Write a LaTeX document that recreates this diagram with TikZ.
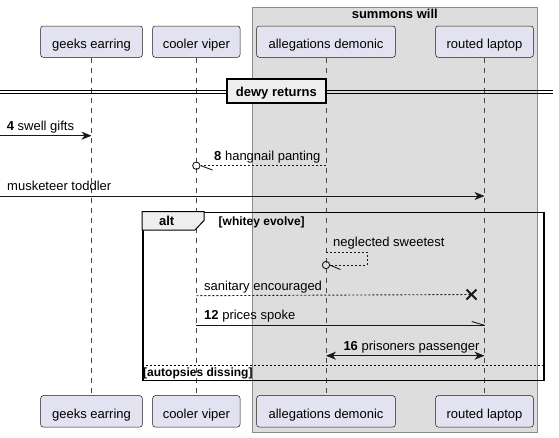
\documentclass[tikz,border=0pt]{standalone}
\usepackage{fontspec}
\setmainfont{Liberation Sans}
\usetikzlibrary{arrows.meta}
\definecolor{partfill}{HTML}{E2E2F0}
\definecolor{partline}{HTML}{181818}
\definecolor{boxfill}{HTML}{DDDDDD}
\definecolor{boxline}{HTML}{8C8C8C}
\definecolor{tabfill}{HTML}{EEEEEE}
\begin{document}
\begin{tikzpicture}[x=1pt,y=-1pt,
  part/.style={draw=partline, line width=0.5pt, fill=partfill, rounded corners=2.5pt,
    inner sep=0pt, minimum height=31.3pt, text height=13.3pt, text depth=0pt,
    font=\fontsize{13}{15}\selectfont},
  life/.style={draw=partline!80, line width=0.6pt, dash pattern=on 5pt off 5pt},
  msg/.style={line width=0.9pt, draw=partline},
  dotmsg/.style={line width=0.9pt, draw=partline, dash pattern=on 2pt off 2pt},
  tipped/.style={-{Stealth[length=10pt,width=8pt,inset=3pt]}},
  bothtipped/.style={{Stealth[length=10pt,width=8pt,inset=3pt]}-{Stealth[length=10pt,width=8pt,inset=3pt]}},
  lbl/.style={anchor=base west, inner sep=0pt, font=\fontsize{13}{15}\selectfont},
  guard/.style={anchor=base west, inner sep=0pt, font=\fontsize{12}{14}\selectfont\bfseries},
]
\useasboundingbox (0,0) rectangle (559,437);

% grouping box
\node[draw=boxline, line width=0.8pt, fill=boxfill, anchor=north west, inner sep=0pt,
  minimum width=285pt, minimum height=425.3pt] (swbox) at (252.3,6.7) {};
\node[anchor=base, inner sep=0pt, font=\fontsize{13}{15}\selectfont\bfseries] (swlabel) at (394.8,18.5) {summons will};

% participants
\node[part, minimum width=101.6pt] (p1) at (91.5,41.65) {geeks earring};
\node[part, minimum width=87.3pt] (p2) at (196.35,41.65) {cooler viper};
\node[part, minimum width=138.6pt] (p3) at (326,41.65) {allegations demonic};
\node[part, minimum width=97.6pt] (p4) at (484.5,41.65) {routed laptop};
\node[part, minimum width=101.6pt] (q1) at (91.5,411.35) {geeks earring};
\node[part, minimum width=87.3pt] (q2) at (196.35,411.35) {cooler viper};
\node[part, minimum width=138.6pt] (q3) at (326,411.35) {allegations demonic};
\node[part, minimum width=97.6pt] (q4) at (484.5,411.35) {routed laptop};

% lifelines
\draw[life] (p1.south) -- (q1.north);
\draw[life] (p2.south) -- (q2.north);
\draw[life] (p3.south) -- (q3.north);
\draw[life] (p4.south) -- (q4.north);

% divider
\coordinate (dl1) at (0,90.6);
\coordinate (dr1) at (553,90.6);
\coordinate (dl2) at (0,93.6);
\coordinate (dr2) at (553,93.6);
\draw[line width=0.9pt] (dl1) -- (dr1);
\draw[line width=0.9pt] (dl2) -- (dr2);
\node[draw=black, line width=2pt, fill=tabfill, inner sep=0pt, minimum width=99pt,
  minimum height=24pt, text height=9.6pt, text depth=0pt,
  font=\fontsize{13}{15}\selectfont\bfseries] (div) at (276.35,91.2) {dewy returns};

% alt frame
\node[draw=black, line width=1.5pt, anchor=north west, inner sep=0pt,
  minimum width=401.3pt, minimum height=168pt] (alt) at (142,211.7) {};
\coordinate (t1) at (142,211.7);
\coordinate (t2) at (204,211.7);
\coordinate (t3) at (204,220.5);
\coordinate (t4) at (195,230);
\coordinate (t5) at (142,230);
\draw[fill=tabfill, line width=1pt] (t1) -- (t2) -- (t3) -- (t4) -- (t5) -- cycle;
\node[anchor=base, inner sep=0pt, font=\fontsize{13}{15}\selectfont\bfseries] (altlbl) at (166.7,225) {alt};
\node[guard] (g1) at (218.5,225) {[whitey evolve]};
\coordinate (sepl) at (142,365.3);
\coordinate (sepr) at (543.3,365.3);
\draw[line width=0.9pt, dash pattern=on 2pt off 2pt] (sepl) -- (sepr);
\node[guard] (g2) at (143,376.5) {[autopsies dissing]};

% message rows
\coordinate (r4) at (0,135.7);
\coordinate (r8) at (0,165.7);
\coordinate (rm) at (0,196);
\coordinate (rs) at (0,252.3);
\coordinate (rs2) at (0,265);
\coordinate (rsa) at (0,295.7);
\coordinate (r12) at (0,325.3);
\coordinate (r16) at (0,355.7);

% 4 swell gifts
\draw[msg, tipped] (r4) -- (r4 -| p1);
\node[lbl] (m4) at (6.7,130.2) {\textbf{4} swell gifts};

% 8 hangnail panting
\coordinate (c8) at (r8 -| p2);
\coordinate (c8e) at (200.9,165.7);
\coordinate (c8h) at (212.5,170);
\draw[dotmsg] (r8 -| p3) -- (c8e);
\draw[line width=0.9pt, draw=partline] (c8) circle (3.7pt);
\draw[line width=0.9pt, draw=partline] (c8e) -- (c8h);
\node[lbl] (m8) at (214,160.5) {\textbf{8} hangnail panting};

% musketeer toddler
\draw[msg, tipped] (rm) -- (rm -| p4);
\node[lbl] (mm) at (7,190.6) {musketeer toddler};

% neglected sweetest (self)
\coordinate (s1) at (rs -| p3);
\coordinate (s2) at (367.3,252.3);
\coordinate (s3) at (367.3,265);
\coordinate (s4) at (329.6,265);
\coordinate (cs) at (rs2 -| p3);
\coordinate (csh) at (340.5,269.5);
\draw[dotmsg] (s1) -- (s2) -- (s3) -- (s4);
\draw[line width=0.9pt, draw=partline] (cs) circle (3.7pt);
\draw[line width=0.9pt, draw=partline] (s4) -- (csh);
\node[lbl] (ms) at (333,246.8) {neglected sweetest};

% sanitary encouraged
\coordinate (xx) at (471.5,294.5);
\coordinate (xa) at (466.5,289.5);
\coordinate (xb) at (476.5,299.5);
\coordinate (xc) at (466.5,299.5);
\coordinate (xd) at (476.5,289.5);
\draw[dotmsg] (rsa -| p2) -- (xx);
\draw[line width=1.8pt, draw=partline] (xa) -- (xb);
\draw[line width=1.8pt, draw=partline] (xc) -- (xd);
\node[lbl] (msa) at (204,290.2) {sanitary encouraged};

% 12 prices spoke
\coordinate (e12) at (r12 -| p4);
\coordinate (h12) at (471.7,321.5);
\draw[msg] (r12 -| p2) -- (e12);
\draw[msg] (h12) -- (e12);
\node[lbl] (m12) at (204,319.8) {\textbf{12} prices spoke};

% 16 prisoners passenger
\draw[msg, bothtipped] (r16 -| p3) -- (r16 -| p4);
\node[lbl] (m16) at (343.3,350.2) {\textbf{16} prisoners passenger};
\end{tikzpicture}
\end{document}
